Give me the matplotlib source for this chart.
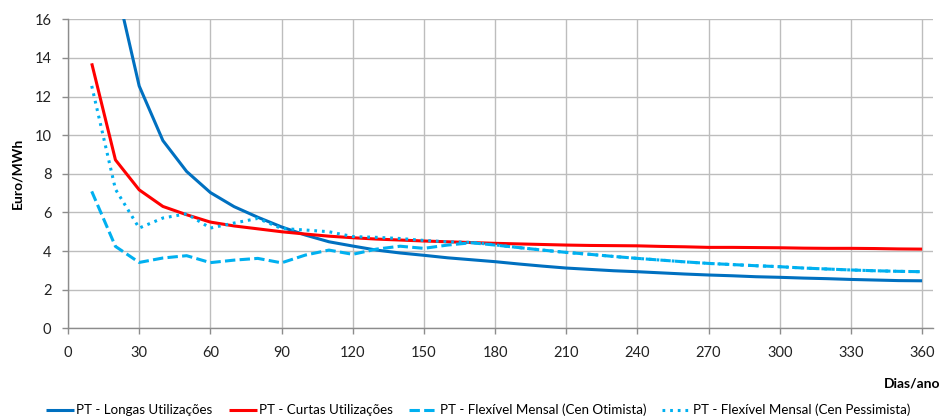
import matplotlib
matplotlib.use("Agg")
import matplotlib.pyplot as plt
from matplotlib.ticker import MultipleLocator

plt.rcParams['font.family'] = ['Lato', 'DejaVu Sans']

dias = [10, 20, 30, 40, 50, 60, 70, 80, 90, 100, 110, 120, 130, 140, 150, 160, 170, 180,
        190, 200, 210, 220, 230, 240, 250, 260, 270, 280, 290, 300, 310, 320, 330, 340, 350, 360]

longas = [34.6, 17.9, 12.55, 9.72, 8.12, 7.03, 6.3, 5.75, 5.25, 4.83, 4.48, 4.26, 4.05, 3.9,
          3.78, 3.65, 3.55, 3.45, 3.33, 3.22, 3.12, 3.05, 2.98, 2.93, 2.87, 2.81, 2.76, 2.72,
          2.67, 2.64, 2.6, 2.57, 2.53, 2.5, 2.47, 2.46]

curtas = [13.72, 8.72, 7.17, 6.31, 5.88, 5.5, 5.3, 5.15, 5.0, 4.88, 4.77, 4.69, 4.62, 4.57,
          4.52, 4.48, 4.44, 4.4, 4.37, 4.34, 4.31, 4.29, 4.28, 4.27, 4.24, 4.22, 4.19, 4.19,
          4.18, 4.17, 4.15, 4.14, 4.14, 4.13, 4.11, 4.1]

otimista = [7.09, 4.24, 3.41, 3.64, 3.76, 3.4, 3.53, 3.62, 3.39, 3.79, 4.05, 3.83, 4.1, 4.25,
            4.14, 4.31, 4.43, 4.31, 4.18, 4.05, 3.93, 3.83, 3.72, 3.62, 3.53, 3.44, 3.36, 3.3,
            3.24, 3.19, 3.12, 3.07, 3.02, 2.98, 2.95, 2.93]

pessimista = [12.55, 7.2, 5.19, 5.71, 5.93, 5.19, 5.45, 5.69, 5.17, 5.09, 5.0, 4.75, 4.71, 4.65,
              4.55, 4.48, 4.45, 4.32, 4.18, 4.05, 3.93, 3.83, 3.72, 3.62, 3.53, 3.44, 3.36, 3.3,
              3.24, 3.19, 3.12, 3.07, 3.02, 2.98, 2.95, 2.93]

nomes = ["PT - Longas Utilizações", "PT - Curtas Utilizações",
         "PT - Flexível Mensal (Cen Otimista)", "PT - Flexível Mensal (Cen Pessimista)"]

fig = plt.figure(figsize=(9.43, 4.2), dpi=100)
ax = fig.add_axes([68 / 943, 1 - 328.3 / 420, (933 - 68) / 943, (328.3 - 19.3) / 420])

lw = 2.2
ax.plot(dias, longas, color="#0070c0", lw=lw, label=nomes[0], solid_capstyle="butt")
ax.plot(dias, curtas, color="#ff0000", lw=lw, label=nomes[1], solid_capstyle="butt")
ax.plot(dias, otimista, color="#00b0f0", lw=lw, label=nomes[2], dashes=(3.4, 1.4))
ax.plot(dias, pessimista, color="#00b0f0", lw=lw, label=nomes[3], dashes=(0.9, 1.6))

ax.set_xlim(0, 364.6)
ax.set_ylim(0, 16)
ax.xaxis.set_major_locator(MultipleLocator(30))
ax.yaxis.set_major_locator(MultipleLocator(2))

ax.grid(True, color="#bdbdbd", lw=1.0)
ax.set_axisbelow(True)
for s in ("top", "right"):
    ax.spines[s].set_visible(False)
for s in ("left", "bottom"):
    ax.spines[s].set_color("#8c8c8c")
    ax.spines[s].set_linewidth(1.0)
ax.tick_params(axis="both", direction="out", length=4, width=1, color="#8c8c8c",
               labelsize=10.5, labelcolor="#222222")
ax.tick_params(axis="x", pad=9)
ax.tick_params(axis="y", pad=8)

ax.set_ylabel("Euro/MWh", fontsize=10, fontweight="bold", labelpad=8)
fig.text(940 / 943, 1 - 383 / 420, "Dias/ano", ha="right", va="center",
         fontsize=10, fontweight="bold")

fig.legend(loc="center", bbox_to_anchor=(478 / 943, 1 - 410 / 420), ncol=4, frameon=False,
           fontsize=9.6, handlelength=2.15, handletextpad=0.15, columnspacing=1.2,
           borderaxespad=0)

fig.savefig("out.png", dpi=100)
